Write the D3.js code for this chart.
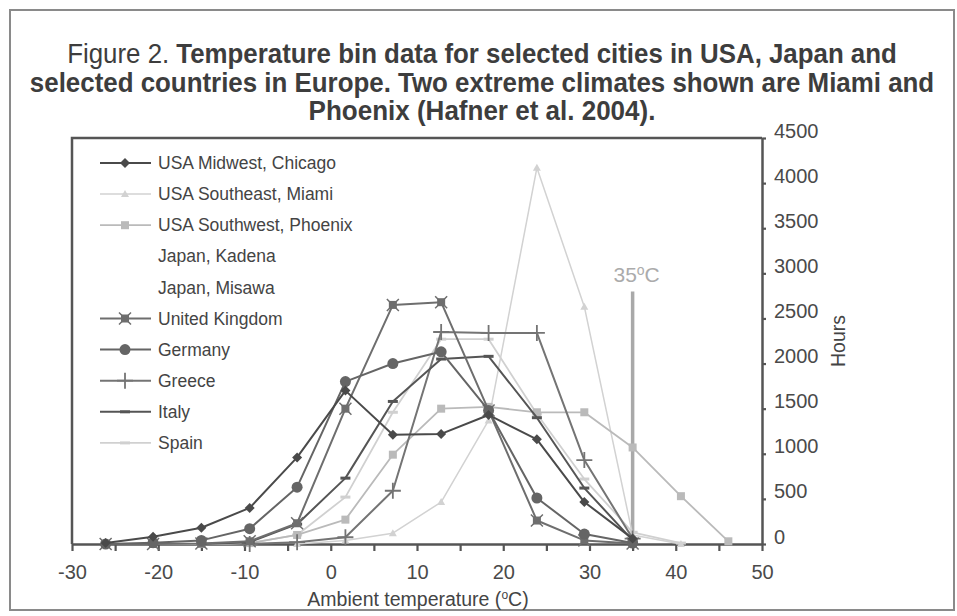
<!DOCTYPE html>
<html>
<head>
<meta charset="utf-8">
<script src="https://cdn.jsdelivr.net/npm/d3@7"></script>
<style>
  html, body { margin: 0; padding: 0; background: #fff; }
  svg { display: block; }
  text { font-family: "Liberation Sans", Arial, sans-serif; }
</style>
</head>
<body>
<svg id="chart" width="957" height="616"></svg>
<script>
// ---- data ----
const temps = [-26.1, -20.6, -15.0, -9.4, -3.9, 1.7, 7.2, 12.8, 18.3, 23.9, 29.4, 35.0, 40.6, 46.1];
const chicago = [10, 80, 180, 400, 960, 1700, 1210, 1220, 1430, 1160, 465, 60, null, null];
const miami   = [null, null, null, null, 0, 40, 120, 465, 1370, 4170, 2630, 100, 0, null];
const phoenix = [0, 0, 0, 10, 100, 270, 990, 1500, 1520, 1460, 1460, 1070, 530, 30];
const kadena  = [];
const misawa  = [];
const uk      = [0, 0, 5, 30, 230, 1500, 2650, 2680, 1480, 260, 40, 5, null, null];
const germany = [0, 15, 40, 170, 630, 1800, 2000, 2130, 1480, 510, 110, 10, null, null];
const greece  = [null, null, null, 0, 20, 75, 590, 2350, 2340, 2340, 930, 60, null, null];
const italy   = [null, null, 0, 20, 220, 730, 1580, 2050, 2080, 1400, 620, 40, null, null];
const spain   = [null, null, 0, 10, 100, 520, 1460, 2270, 2270, 1440, 720, 130, 10, null];

const seriesNames = ["USA Midwest, Chicago", "USA Southeast, Miami", "USA Southwest, Phoenix",
  "Japan, Kadena", "Japan, Misawa", "United Kingdom", "Germany", "Greece", "Italy", "Spain"];
const seriesValues = [chicago, miami, phoenix, kadena, misawa, uk, germany, greece, italy, spain];

const xTicks = [-30, -25, -20, -15, -10, -5, 0, 5, 10, 15, 20, 25, 30, 35, 40, 45, 50];
const xLabels = [-30, -20, -10, 0, 10, 20, 30, 40, 50];
const yTicks = [0, 500, 1000, 1500, 2000, 2500, 3000, 3500, 4000, 4500];
const thresholdTemp = 35;
const thresholdTop = 2800;

const titleLines = [
  [["Figure 2. ", "normal"], ["Temperature bin data for selected cities in USA, Japan and", "bold"]],
  [["selected countries in Europe. Two extreme climates shown are Miami and", "bold"]],
  [["Phoenix (Hafner et al. 2004).", "bold"]]
];

// ---- styles ----
const styles = [
  { color: "#4a4a4a", w: 2.0, marker: "diamond" },
  { color: "#d2d2d2", w: 1.5, marker: "triangle" },
  { color: "#bababa", w: 1.8, marker: "square" },
  { color: "none", w: 0, marker: null },
  { color: "none", w: 0, marker: null },
  { color: "#6e6e6e", w: 2.0, marker: "xsquare" },
  { color: "#656565", w: 2.0, marker: "circle" },
  { color: "#747474", w: 2.0, marker: "plus" },
  { color: "#555555", w: 2.0, marker: "dash" },
  { color: "#d0d0d0", w: 1.8, marker: "lightdash" }
];
const drawOrder = [9, 1, 2, 7, 8, 5, 6, 0];

const svg = d3.select("#chart");
const x = d3.scaleLinear().domain([-30, 50]).range([72, 762]);
const y = d3.scaleLinear().domain([0, 4500]).range([544, 138]);

// outer frame
svg.append("rect").attr("x", 10).attr("y", 10).attr("width", 944).attr("height", 600)
  .attr("fill", "none").attr("stroke", "#8a8a8a").attr("stroke-width", 2);

// title: natural width measured, then scaled horizontally to the reference width
const titleBase = [63, 92, 120];
const titleLen = [830, 905, 347];
const titleCx = 482;
titleLines.forEach((parts, i) => {
  const g = svg.append("g");
  const t = g.append("text").attr("x", 0).attr("y", 0)
    .attr("text-anchor", "middle")
    .style("font-family", "'Liberation Sans Narrow', 'Arial Narrow', 'Liberation Sans', sans-serif")
    .style("font-size", "27px").attr("fill", "#3d3d3d");
  parts.forEach(p => t.append("tspan").text(p[0]).style("font-weight", p[1]));
  const w = t.node().getComputedTextLength();
  const s = titleLen[i] / w;
  g.attr("transform", `translate(${titleCx},${titleBase[i]}) scale(${s},1)`);
});

// frame of plot (left and top)
svg.append("path")
  .attr("d", `M${x(-30)},${y(0)}V${y(4500)}H${x(50)}`)
  .attr("fill", "none").attr("stroke", "#555").attr("stroke-width", 2.5);

// x axis
const gx = svg.append("g").attr("transform", `translate(0,${y(0)})`)
  .call(d3.axisBottom(x).tickValues(xTicks).tickSize(7).tickSizeOuter(0)
    .tickFormat(d => xLabels.includes(d) ? String(d) : ""));
gx.select(".domain").attr("stroke", "#555").attr("stroke-width", 2.5);
gx.selectAll(".tick line").attr("stroke", "#555").attr("stroke-width", 2.2);
gx.selectAll(".tick text").attr("y", 21).attr("dy", "0.71em")
  .style("font-size", "20px").attr("fill", "#4a4a4a")
  .style("font-family", "'Liberation Sans', Arial, sans-serif");

// right y axis
const gy = svg.append("g").attr("transform", `translate(${x(50)},0)`)
  .call(d3.axisRight(y).tickValues(yTicks).tickSize(4).tickSizeOuter(0).tickFormat(d3.format("d")));
gy.select(".domain").attr("stroke", "#555").attr("stroke-width", 2.5);
gy.selectAll(".tick line").attr("stroke", "#555").attr("stroke-width", 2.2);
gy.selectAll(".tick text").attr("x", 12).attr("dy", "-0.05em")
  .style("font-size", "20px").attr("fill", "#4a4a4a")
  .style("font-family", "'Liberation Sans', Arial, sans-serif");

// axis titles
const xt = svg.append("text").attr("x", 418).attr("y", 606).attr("text-anchor", "middle")
  .style("font-size", "19.5px").attr("fill", "#444");
xt.append("tspan").text("Ambient temperature (");
xt.append("tspan").text("o").style("font-size", "12px").attr("dy", -7);
xt.append("tspan").text("C)").attr("dy", 7);

svg.append("text").attr("transform", "translate(845,341) rotate(-90)")
  .attr("text-anchor", "middle").style("font-size", "19.5px").attr("fill", "#444").text("Hours");

// 35°C marker
svg.append("line").attr("x1", x(thresholdTemp)).attr("x2", x(thresholdTemp))
  .attr("y1", y(thresholdTop)).attr("y2", y(0))
  .attr("stroke", "#a9a9a9").attr("stroke-width", 3.5);
const tl = svg.append("text").attr("x", x(thresholdTemp) + 4).attr("y", 282).attr("text-anchor", "middle")
  .style("font-size", "21px").attr("fill", "#ababab");
tl.append("tspan").text("35");
tl.append("tspan").text("o").style("font-size", "14px").attr("dy", -7);
tl.append("tspan").text("C").attr("dy", 7);

// marker drawing
function drawMarker(g, type, cx, cy, color) {
  if (!type) return;
  if (type === "diamond") {
    g.append("path").attr("d", `M${cx},${cy-5}L${cx+5},${cy}L${cx},${cy+5}L${cx-5},${cy}Z`).attr("fill", color);
  } else if (type === "triangle") {
    g.append("path").attr("d", `M${cx},${cy-4}L${cx+4},${cy+3}L${cx-4},${cy+3}Z`).attr("fill", color);
  } else if (type === "square") {
    g.append("rect").attr("x", cx-4).attr("y", cy-4).attr("width", 8).attr("height", 8).attr("fill", color);
  } else if (type === "xsquare") {
    g.append("rect").attr("x", cx-4).attr("y", cy-4).attr("width", 8).attr("height", 8).attr("fill", color);
    g.append("path").attr("d", `M${cx-6},${cy-6}L${cx+6},${cy+6}M${cx+6},${cy-6}L${cx-6},${cy+6}`)
      .attr("stroke", color).attr("stroke-width", 1.5);
  } else if (type === "circle") {
    g.append("circle").attr("cx", cx).attr("cy", cy).attr("r", 5.5).attr("fill", color);
  } else if (type === "plus") {
    g.append("path").attr("d", `M${cx-8},${cy}H${cx+8}M${cx},${cy-8}V${cy+8}`)
      .attr("stroke", color).attr("stroke-width", 1.8);
  } else if (type === "dash" || type === "lightdash") {
    g.append("path").attr("d", `M${cx-5},${cy}H${cx+5}`).attr("stroke", color).attr("stroke-width", 3);
  }
}

// series lines
const line = d3.line().x(d => x(d.t)).y(d => y(d.v));
const plot = svg.append("g");
drawOrder.forEach(i => {
  const st = styles[i];
  const pts = temps.map((t, k) => ({ t, v: seriesValues[i][k] }))
    .filter(d => d.v !== null && d.v !== undefined);
  if (!pts.length || st.color === "none") return;
  const g = plot.append("g");
  g.append("path").attr("d", line(pts)).attr("fill", "none")
    .attr("stroke", st.color).attr("stroke-width", st.w).attr("stroke-linejoin", "round");
  pts.forEach(d => drawMarker(g, st.marker, x(d.t), y(d.v), st.color));
});

// legend
const legend = svg.append("g");
seriesNames.forEach((name, i) => {
  const cy = 163 + i * 31.1;
  const st = styles[i];
  const g = legend.append("g");
  if (st.color !== "none") {
    g.append("line").attr("x1", 100).attr("x2", 151).attr("y1", cy).attr("y2", cy)
      .attr("stroke", st.color).attr("stroke-width", st.w);
    drawMarker(g, st.marker, 125, cy, st.color);
  }
  g.append("text").attr("x", 158).attr("y", cy).attr("dy", "0.35em")
    .style("font-size", "17.5px").attr("fill", "#444").text(name);
});
</script>
</body>
</html>
